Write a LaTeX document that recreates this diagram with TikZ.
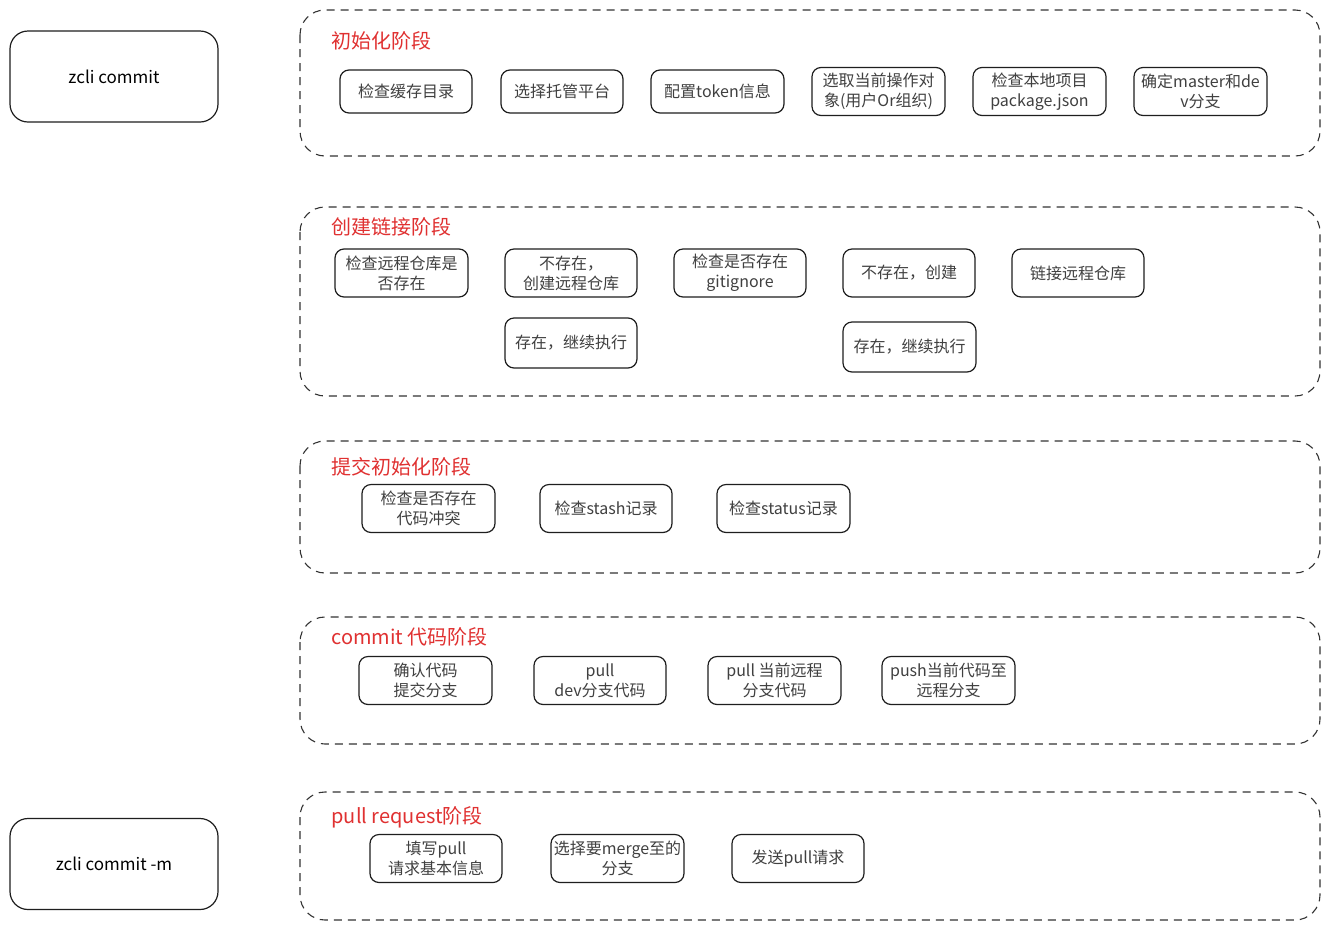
\documentclass[tikz,border=0pt]{standalone}
\usepackage{fontspec}
\setmainfont{Noto Sans CJK SC}
\definecolor{inkdark}{HTML}{1E1E1E}
\definecolor{phasered}{HTML}{E03131}
\definecolor{dashgray}{HTML}{333333}
\tikzset{
  cmdbox/.style={draw=inkdark, line width=1.2pt, rounded corners=18pt,
    minimum width=208pt, minimum height=91pt, font=\fontsize{17}{20}\selectfont},
  stepbox/.style={draw=inkdark, line width=1.2pt, rounded corners=9pt, align=center,
    minimum width=132pt, minimum height=48pt, inner sep=2pt,
    font=\fontsize{16}{20}\selectfont, text=inkdark!85},
  phase/.style={draw=dashgray, line width=1.1pt, dash pattern=on 8pt off 6pt,
    rounded corners=25pt},
  phasetitle/.style={anchor=west, text=phasered, font=\fontsize{20}{22}\selectfont}
}
\begin{document}
\begin{tikzpicture}[x=1pt,y=-1pt]
\useasboundingbox[fill=white] (0,0) rectangle (1330,930);

% Commands
\node[cmdbox] (cmd) at (114,76.5) {zcli commit};
\node[cmdbox] (cmdm) at (114,864) {zcli commit -m};

% Phase 1: init
\draw[phase] (300,10) rectangle (1320,156);
\node[phasetitle] (initt) at (328,41) {初始化阶段};
\node[stepbox, minimum height=43pt] (cache) at (406,91.5) {检查缓存目录};
\node[stepbox, minimum width=122pt, minimum height=43pt] (platform) at (562,91.5) {选择托管平台};
\node[stepbox, minimum width=133pt, minimum height=43pt] (token) at (717.5,91.5) {配置token信息};
\node[stepbox, minimum width=133pt] (target) at (878.5,91.5) {选取当前操作对\\象(用户Or组织)};
\node[stepbox, minimum width=133pt] (pkg) at (1039.5,91.5) {检查本地项目\\package.json};
\node[stepbox, minimum width=133pt] (branch) at (1200.5,91.5) {确定master和de\\v分支};

% Phase 2: link
\draw[phase] (300,207) rectangle (1320,396);
\node[phasetitle] (linkt) at (328,227) {创建链接阶段};
\node[stepbox, minimum width=133pt] (remote) at (401.5,273) {检查远程仓库是\\否存在};
\node[stepbox] (newremote) at (571,273) {不存在，\\创建远程仓库};
\node[stepbox] (ignore) at (740,273) {检查是否存在\\gitignore};
\node[stepbox] (newignore) at (909,273) {不存在，创建};
\node[stepbox] (link) at (1078,273) {链接远程仓库};
\node[stepbox, minimum height=50pt] (goon) at (571,343) {存在，继续执行};
\node[stepbox, minimum width=133pt, minimum height=50pt] (goonb) at (909.5,347) {存在，继续执行};

% Phase 3: pre-commit checks
\draw[phase] (300,441) rectangle (1320,573);
\node[phasetitle] (checkt) at (328,467) {提交初始化阶段};
\node[stepbox, minimum width=133pt] (conflict) at (428.5,508.5) {检查是否存在\\代码冲突};
\node[stepbox] (stash) at (606,508.5) {检查stash记录};
\node[stepbox, minimum width=133pt] (status) at (783.5,508.5) {检查status记录};

% Phase 4: commit
\draw[phase] (300,617) rectangle (1320,744);
\node[phasetitle] (committ) at (328,637) {commit\ 代码阶段};
\node[stepbox, minimum width=133pt] (confirm) at (425.5,680.5) {确认代码\\提交分支};
\node[stepbox] (pulldev) at (600,680.5) {pull\\dev分支代码};
\node[stepbox, minimum width=133pt] (pullcur) at (774.5,680.5) {pull\ 当前远程\\分支代码};
\node[stepbox, minimum width=133pt] (push) at (948.5,680.5) {push当前代码至\\远程分支};

% Phase 5: pull request
\draw[phase] (300,792) rectangle (1320,920);
\node[phasetitle] (prt) at (328,817) {pull request阶段};
\node[stepbox] (fill) at (436,858.5) {填写pull\\请求基本信息};
\node[stepbox, minimum width=133pt] (merge) at (617.5,858.5) {选择要merge至的\\分支};
\node[stepbox] (send) at (798,858.5) {发送pull请求};

\end{tikzpicture}
\end{document}
